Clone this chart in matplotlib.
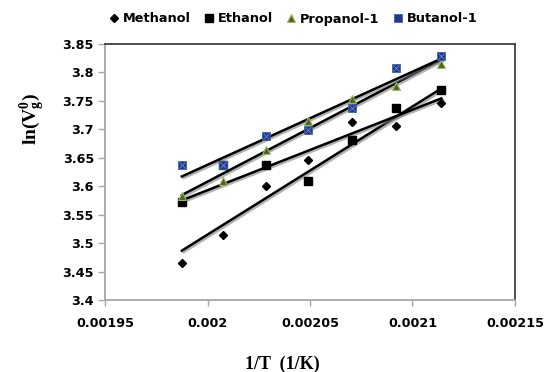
import numpy as np
import matplotlib
matplotlib.use("Agg")
import matplotlib.pyplot as plt
import matplotlib.patheffects as pe
from matplotlib.lines import Line2D

plt.rcParams['mathtext.fontset'] = 'custom'
plt.rcParams['mathtext.rm'] = 'Liberation Serif'
plt.rcParams['mathtext.it'] = 'Liberation Serif:italic'
plt.rcParams['mathtext.bf'] = 'Liberation Serif:bold'

# Data
inv_T = [0.0019875, 0.0020076, 0.0020283, 0.0020492, 0.0020704, 0.0020921, 0.0021141]
methanol = [3.465, 3.515, 3.601, 3.646, 3.713, 3.705, 3.746]
ethanol = [3.573, 3.637, 3.637, 3.610, 3.681, 3.738, 3.769]
propanol = [3.583, 3.610, 3.664, 3.714, 3.753, 3.776, 3.814]
butanol = [3.637, 3.637, 3.689, 3.698, 3.738, 3.807, 3.829]
series_names = ["Methanol", "Ethanol", "Propanol-1", "Butanol-1"]
x_ticks = [0.00195, 0.002, 0.00205, 0.0021, 0.00215]
x_tick_labels = ["0.00195", "0.002", "0.00205", "0.0021", "0.00215"]
y_ticks = [3.4, 3.45, 3.5, 3.55, 3.6, 3.65, 3.7, 3.75, 3.8, 3.85]
y_tick_labels = ["3.4", "3.45", "3.5", "3.55", "3.6", "3.65", "3.7", "3.75", "3.8", "3.85"]

fig = plt.figure(figsize=(5.47, 3.72), dpi=100)
ax = fig.add_axes([105/547, 1-300/372, 410/547, 256/372])

x = np.array(inv_T)
shadow = [pe.SimpleLineShadow(offset=(1.2, -1.2), shadow_color='gray', alpha=0.6), pe.Normal()]

# trendlines (drawn under markers)
for ys in [methanol, ethanol, propanol, butanol]:
    k, b = np.polyfit(x, np.array(ys), 1)
    xl = np.array([x[0], x[-1]])
    ax.plot(xl, k*xl + b, color='black', lw=1.8, zorder=2, path_effects=shadow)

ax.plot(x, methanol, linestyle='none', marker='D', ms=4.2, mfc='black', mec='black', zorder=3)
ax.plot(x, ethanol, linestyle='none', marker='s', ms=5.5, mfc='black', mec='black', zorder=3)
ax.plot(x, propanol, linestyle='none', marker='^', ms=5.5, mfc='#4F6228', mec='#9BBB59', mew=0.8, zorder=4)
ax.plot(x, butanol, linestyle='none', marker='s', ms=6, mfc='#1F3A8A', mec='#3F63B0', mew=0.6, zorder=5)
ax.plot(x, butanol, linestyle='none', marker='x', ms=3.8, mec='#7F97CC', mew=0.5, zorder=6)

ax.set_xlim(0.00195, 0.00215)
ax.set_ylim(3.4, 3.85)
ax.set_xticks(x_ticks)
ax.set_xticklabels(x_tick_labels)
ax.set_yticks(y_ticks)
ax.set_yticklabels(y_tick_labels)

for lab in ax.get_xticklabels() + ax.get_yticklabels():
    lab.set_fontfamily('DejaVu Sans')
    lab.set_fontweight('bold')
    lab.set_fontsize(9.2)
    lab.set_color('black')

ax.tick_params(axis='y', direction='out', length=5, width=1, color='#A6A6A6', pad=3)
ax.tick_params(axis='x', direction='out', length=4, width=1, color='#A6A6A6', pad=8)

for s in ['top', 'right']:
    ax.spines[s].set_color('#404040')
    ax.spines[s].set_linewidth(1.3)
for s in ['left', 'bottom']:
    ax.spines[s].set_color('#A6A6A6')
    ax.spines[s].set_linewidth(1.3)

fig.text(33/547, 1-119/372, r'$\mathbf{ln(V_{g}^{0})}$', rotation=90, ha='center', va='center',
         fontsize=14)
fig.text(282/547, 1-364/372, '1/T  (1/K)', ha='center', va='center', fontsize=13,
         fontfamily='Liberation Serif', fontweight='bold')

handles = [
    Line2D([], [], linestyle='none', marker='D', ms=4.2, mfc='black', mec='black'),
    Line2D([], [], linestyle='none', marker='s', ms=5.5, mfc='black', mec='black'),
    Line2D([], [], linestyle='none', marker='^', ms=5.5, mfc='#4F6228', mec='#9BBB59', mew=0.8),
    Line2D([], [], linestyle='none', marker='s', ms=6, mfc='#1F3A8A', mec='#3F63B0', mew=0.6),
]
leg = fig.legend(handles, series_names, loc='center', bbox_to_anchor=(293/547, 1-19/372), ncol=4,
                 frameon=False, handlelength=0.8, handletextpad=0.3, columnspacing=1.0,
                 prop={'family': 'DejaVu Sans', 'weight': 'bold', 'size': 9.3})

fig.savefig('out.png', dpi=100)
